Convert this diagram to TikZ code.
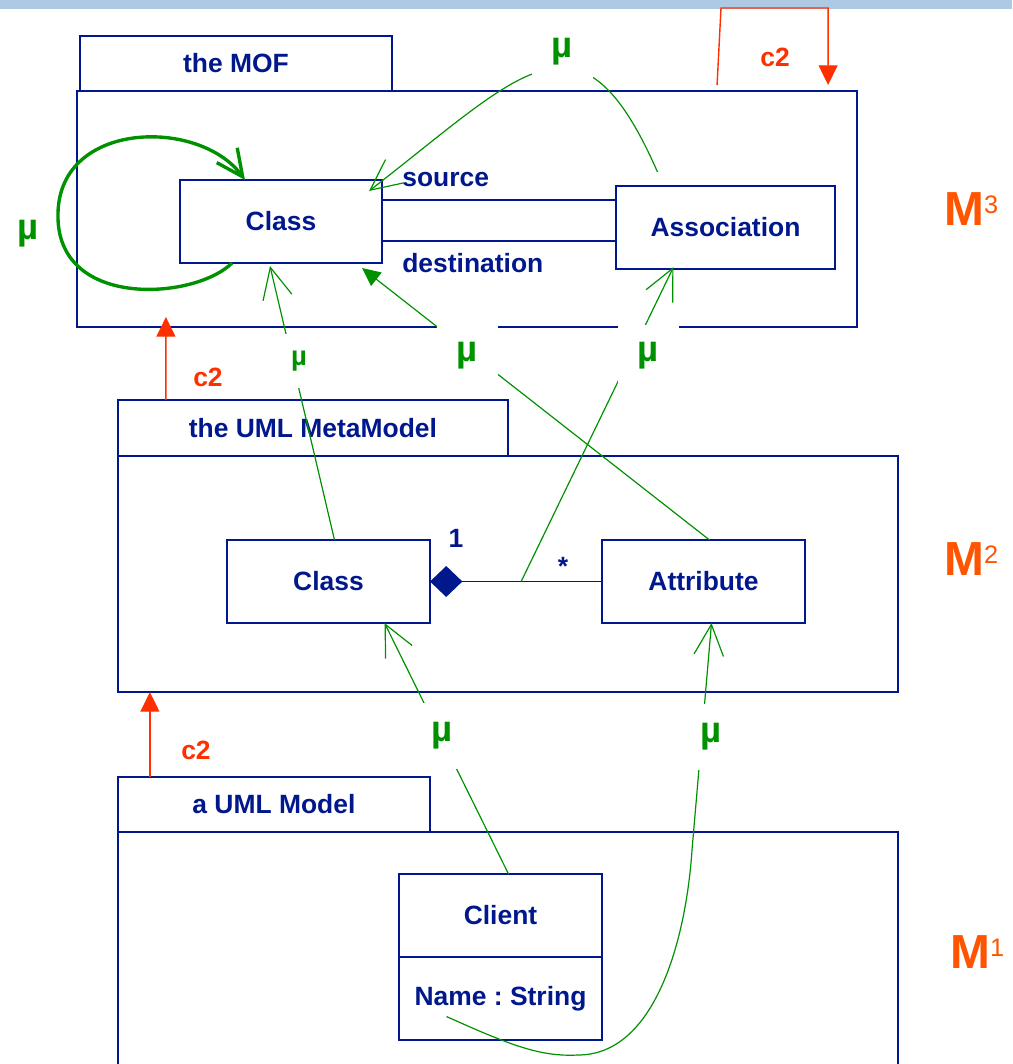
\documentclass[tikz,border=0pt]{standalone}
\usepackage{fontspec}
\setmainfont{Liberation Sans}
\usetikzlibrary{positioning,arrows.meta}
\frenchspacing

\definecolor{umlnavy}{RGB}{0,24,140}
\definecolor{mugreen}{RGB}{0,145,0}
\definecolor{ctwored}{RGB}{255,48,0}
\definecolor{levelorange}{RGB}{255,85,0}
\definecolor{bandblue}{RGB}{173,201,228}

\newcommand{\umlfont}{\fontsize{18.8}{22}\selectfont\bfseries}
\newcommand{\mufont}{\fontsize{26}{26}\selectfont\bfseries}
\newcommand{\levelsup}{\fontsize{18}{18}\selectfont\mdseries}

\tikzset{
	umlclass/.style={draw=umlnavy, line width=1.1pt, text=umlnavy, font=\umlfont,
		minimum width=5.075cm, minimum height=2.075cm, inner sep=0pt, outer sep=0pt},
	pkgtab/.style={draw=umlnavy, line width=1.1pt, text=umlnavy, font=\umlfont,
		minimum height=1.375cm, inner sep=0pt, outer sep=0pt},
	pkgbody/.style={draw=umlnavy, line width=1.1pt, minimum width=19.5cm, inner sep=0pt, outer sep=0pt},
	assoc/.style={draw=umlnavy, line width=1.1pt},
	assoclbl/.style={text=umlnavy, font=\umlfont, inner sep=0pt},
	compo/.style={draw=umlnavy, line width=1.1pt, {Diamond[length=23pt, width=22pt]}-},
	metaof/.style={draw=mugreen, line width=0.85pt, -{Straight Barb[length=22pt, width=21pt]}},
	metaoffill/.style={draw=mugreen, line width=0.85pt, -{Triangle[length=13pt, width=12pt]}},
	selfloop/.style={draw=mugreen, line width=2.4pt, -{Straight Barb[length=19pt, width=18pt]}},
	mulbl/.style={fill=white, text=mugreen, font=\mufont, minimum width=1.525cm,
		minimum height=1.55cm, inner sep=0pt},
	mulblsmall/.style={mulbl, font=\fontsize{19.5}{19.5}\selectfont\bfseries,
		minimum width=1cm, minimum height=1.35cm},
	ctwo/.style={draw=ctwored, line width=1pt, -{Triangle[length=14pt, width=13.5pt]}},
	ctwolbl/.style={text=ctwored, font=\umlfont, inner sep=0pt},
	levellbl/.style={text=levelorange, font=\fontsize{34}{34}\selectfont\bfseries, inner sep=0pt, anchor=base west},
}

\begin{document}
\begin{tikzpicture}[x=0.025cm, y=-0.025cm]
	\useasboundingbox (0,0) rectangle (1012,1064);
	\fill[bandblue] (0,0) rectangle (1012,9.5);

	% Packages:
	\node[pkgbody, minimum height=5.9cm] (mofbody) at (467,209) {};
	\node[pkgtab, minimum width=7.8cm, above right=0cm and 0.075cm of mofbody.north west] (moftab) {the MOF};
	\node[pkgbody, minimum height=5.9cm] (umlbody) at (508,574) {};
	\node[pkgtab, minimum width=9.75cm, minimum height=1.4cm, above right=0cm of umlbody.north west] (umltab) {the UML MetaModel};
	\node[pkgbody, minimum height=6cm] (modelbody) at (508,952) {};
	\node[pkgtab, minimum width=7.8cm, above right=0cm of modelbody.north west] (modeltab) {a UML Model};

	% Classes:
	\node[umlclass, minimum width=5.05cm] (class3) at (281,221.5) {Class};
	\node[umlclass, minimum width=5.475cm] (association) at (725.5,227.5) {Association};
	\node[umlclass] (class2) at (328.5,581.5) {Class};
	\node[umlclass] (attribute) at (703.5,581.5) {Attribute};
	\node[umlclass] (clienthead) at (500.5,915.5) {Client};
	\node[umlclass, below=0cm of clienthead] (clientattr) {Name : String};

	% Lines:
	\draw[assoc] ([yshift=0.54cm]class3.east) -- ([yshift=0.54cm]class3.east -| association.west);
	\draw[assoc] ([yshift=-0.49cm]class3.east) -- ([yshift=-0.49cm]class3.east -| association.west);
	\draw[compo] (class2.east) -- coordinate[pos=0.53] (compmid) (attribute.west);

	% Instance-of:
	\draw[selfloop] ([xshift=1.3cm]class3.south west) .. controls (195,300) and (55,310) .. (58,213)
		.. controls (60,120) and (200,118) .. ([xshift=1.625cm]class3.north west);
	\draw[metaof] ([xshift=-1.7cm,yshift=0.35cm]association.north) .. controls (580.5,-3.5) and (524,71)
		.. ([xshift=-0.325cm,yshift=-0.275cm]class3.north east);
	\draw[metaof] ([xshift=0.15cm]class2.north) -- ([xshift=-0.275cm,yshift=-0.075cm]class3.south);
	\draw[metaoffill] ([xshift=0.15cm]attribute.north) -- ([xshift=-0.5cm,yshift=-0.125cm]class3.south east);
	\draw[metaof] (compmid) -- ([xshift=-1.3cm,yshift=0.05cm]association.south);
	\draw[metaof] ([xshift=0.2cm]clienthead.north) -- ([xshift=1.4cm]class2.south);
	\draw[metaof] ([xshift=-1.35cm,yshift=-0.45cm]clientattr.center) .. controls (510,1045) and (540,1057) .. (578,1055)
		.. controls (655,1055) and (686,940) .. (692,850) -- ([xshift=0.2cm]attribute.south);

	% Conforms-to:
	\draw[ctwo] ([xshift=6.25cm,yshift=0.15cm]mofbody.north) -- (721,8) -| ([xshift=9.025cm,yshift=0.15cm]mofbody.north);
	\draw[ctwo] ([xshift=1.2cm]umltab.north west) -- ([xshift=2.225cm,yshift=0.25cm]mofbody.south west);
	\draw[ctwo] ([xshift=0.8cm]modeltab.north west) -- ([xshift=0.8cm]umlbody.south west);

	% Labels
	\node[assoclbl, right=0.5cm of class3.north east] (srclbl) {source};
	\node[assoclbl, right=0.5cm of class3.south east] (dstlbl) {destination};
	\node[assoclbl] (one) at ([xshift=0.65cm,yshift=0.05cm]class2.north east) {1};
	\node[assoclbl] (many) at (563,566) {*};

	\node[ctwolbl] (c2top) at (775,57) {c2};
	\node[ctwolbl] (c2mid) at (208,377) {c2};
	\node[ctwolbl] (c2low) at (196,750) {c2};

	\node[mulbl, minimum height=1.35cm] (mutop) at (562.5,52) {µ};
	\node[mulbl] (mumid) at (467.5,356) {µ};
	\node[mulbl] (muright) at (648,356) {µ};
	\node[mulblsmall] (musmall) at (299,361) {µ};
	\node[mulbl, minimum height=1.625cm] (mulowl) at (442,736) {µ};
	\node[mulbl, minimum height=1.625cm] (mulowr) at (711,737) {µ};
	\node[text=mugreen, font=\mufont, inner sep=0pt] (muloop) at (28,234) {µ};

	\node[levellbl] (m3) at (944,225) {M\raisebox{8.5pt}{\levelsup 3}};
	\node[levellbl] (m2) at (944,575) {M\raisebox{8.5pt}{\levelsup 2}};
	\node[levellbl] (m1) at (950,968) {M\raisebox{8.5pt}{\levelsup 1}};

\end{tikzpicture}
\end{document}
